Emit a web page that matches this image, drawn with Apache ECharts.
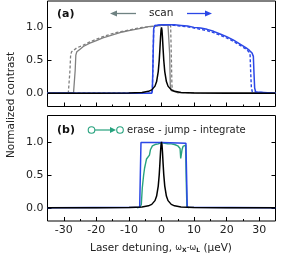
<!DOCTYPE html>
<html><head><meta charset="utf-8">
<script src="https://cdn.jsdelivr.net/npm/echarts@6/dist/echarts.min.js"></script>
<style>html,body{margin:0;padding:0;background:#fff}#c{width:284px;height:256px}</style>
</head><body><div id="c"></div>
<script>
const xTicks = [-30, -20, -10, 0, 10, 20, 30];
const xMinorTicks = [-25, -15, -5, 5, 15, 25];
const yTicks = [0, 0.5, 1];

// narrow resonance (black), both panels
const peakX = [-35,-20,-10,-6,-4,-3,-2,-1.5,-1,-0.7,-0.5,-0.3,-0.15,0,0.15,0.3,0.5,0.7,1,1.5,2,3,4,6,10,20,35];
const peakY = [0.0,0.001,0.005,0.013,0.03,0.052,0.109,0.179,0.329,0.5,0.662,0.845,0.956,1.0,0.956,0.845,0.662,0.5,0.329,0.179,0.109,0.052,0.03,0.013,0.005,0.001,0.0];

// panel (a) scan left (gray)
const graySolidX = [-35,-27.0,-26.7,-26.5,-26.3,-26.0,-25.0,-24.0,-22.0,-20.0,-18.0,-16.0,-14.0,-12.0,-10.0,-8.0,-6.0,-4.0,-2.0,0.0,2.0,2.3,2.5,2.7,3.0,3.5,5.0,35];
const graySolidY = [0.01,0.01,0.03,0.35,0.58,0.63,0.67,0.71,0.76,0.8,0.84,0.87,0.9,0.93,0.95,0.97,0.99,1.01,1.02,1.03,1.03,1.03,0.6,0.12,0.04,0.02,0.01,0.01];
const grayDashX = [-35,-28.6,-28.3,-28.1,-27.9,-27.6,-26.0,-24.0,-22.0,-20.0,-18.0,-16.0,-14.0,-12.0,-10.0,-8.0,-6.0,-4.0,-2.0,0.0,2.0,2.8,3.0,3.2,3.5,4.0,5.0,35];
const grayDashY = [0.01,0.01,0.03,0.35,0.58,0.63,0.69,0.73,0.78,0.82,0.86,0.89,0.92,0.94,0.96,0.98,1.0,1.01,1.02,1.03,1.03,1.03,0.6,0.12,0.04,0.02,0.01,0.01];

// panel (a) scan right (blue)
const blueSolidX = [-35,-3.0,-2.8,-2.6,-2.4,-2.0,0,2,4,6,8,10,12,14,16,18,20,22,24,26,27,27.8,28.2,28.4,28.6,28.9,29.5,35];
const blueSolidY = [0.0,0.0,0.05,0.5,0.98,1.03,1.04,1.04,1.04,1.03,1.02,1.0,0.99,0.97,0.94,0.9,0.86,0.81,0.75,0.69,0.65,0.61,0.56,0.3,0.08,0.02,0.0,0.0];
const blueDashX = [-35,-3.0,-2.8,-2.6,-2.4,-2.0,0,2,4,6,8,10,12,14,16,18,20,22,24,26,26.8,27.2,27.4,27.6,27.9,28.5,35];
const blueDashY = [0.0,0.0,0.05,0.5,0.98,1.03,1.04,1.04,1.03,1.02,1.01,0.99,0.97,0.95,0.92,0.88,0.84,0.79,0.73,0.67,0.63,0.58,0.3,0.08,0.02,0.0,0.0];

// panel (b)
const blueBX = [-35,-6.7,-6.5,-6.3,0,7.5,7.7,7.9,35];
const blueBY = [0.0,0.01,0.5,0.99,0.99,0.98,0.5,0.01,0.0];
const greenX = [-7.5,-6.6,-6.2,-5.9,-5.5,-5.2,-4.9,-4.6,-4.3,-4.0,-3.7,-3.4,-3.1,-2.8,-2.4,-2.0,-1.5,-1.0,-0.5,0.0,0.5,1.0,1.5,2.0,2.5,3.0,3.5,4.0,4.5,5.0,5.4,5.7,5.9,6.1,6.3,6.6,7.0,7.4,7.6,7.8,8.5];
const greenY = [0.0,0.01,0.05,0.3,0.49,0.6,0.67,0.74,0.77,0.72,0.8,0.88,0.9,0.94,0.95,0.96,0.96,0.97,0.98,0.99,0.98,0.98,0.97,0.97,0.96,0.97,0.96,0.96,0.95,0.94,0.92,0.9,0.75,0.72,0.88,0.93,0.96,0.95,0.4,0.02,0.0];

const BLUE = '#2b47e6', GRAY = '#808080', GREEN = '#27a27e', BLACK = '#000';
const pairs = (xs, ys) => xs.map((x, i) => [x, ys[i]]);

const grids = [
  {left: 47.5, top: 1, width: 228, height: 105.5},
  {left: 47.5, top: 115.5, width: 228, height: 105.5}
].map(g => Object.assign({show: true, borderColor: '#000', borderWidth: 1, backgroundColor: 'transparent', containLabel: false, outerBoundsMode: 'none'}, g));

const F = 'DejaVu Sans';
const xAxis = [], yAxis = [];
[0, 1].forEach(i => {
  xAxis.push({gridIndex: i, type: 'value', min: -35, max: 35, position: 'bottom',
    axisLine: {show: false, onZero: false}, splitLine: {show: false},
    axisTick: {show: true, inside: true, length: 4, customValues: xTicks, lineStyle: {color: '#000'}},
    axisLabel: {show: i === 1, customValues: xTicks, fontSize: 11, color: '#222', margin: 4, fontFamily: F}});
  xAxis.push({gridIndex: i, type: 'value', min: -35, max: 35, position: 'bottom',
    axisLine: {show: false, onZero: false}, splitLine: {show: false},
    axisTick: {show: true, inside: true, length: 2, customValues: xMinorTicks, lineStyle: {color: '#000'}},
    axisLabel: {show: false}});
  yAxis.push({gridIndex: i, type: 'value', min: -0.2, max: 1.4, position: 'left',
    axisLine: {show: false, onZero: false}, splitLine: {show: false},
    axisTick: {show: true, inside: true, length: 4, customValues: yTicks, lineStyle: {color: '#000'}},
    axisLabel: {customValues: yTicks, formatter: v => v.toFixed(1), fontSize: 11, color: '#222', margin: 4, fontFamily: F}});
  yAxis.push({gridIndex: i, type: 'value', min: -0.2, max: 1.4, position: 'right',
    axisLine: {show: false, onZero: false}, splitLine: {show: false},
    axisTick: {show: true, inside: true, length: 4, customValues: yTicks, lineStyle: {color: '#000'}},
    axisLabel: {show: false}});
});

function line(xs, ys, panel, color, width, dashed) {
  return {type: 'line', xAxisIndex: panel * 2, yAxisIndex: panel * 2, data: pairs(xs, ys),
    symbol: 'none', smooth: false, animation: false,
    lineStyle: {color: color, width: width, type: dashed ? [3, 2] : 'solid'}};
}

const series = [
  line(grayDashX, grayDashY, 0, GRAY, 1.3, true),
  line(graySolidX, graySolidY, 0, GRAY, 1.3, false),
  line(blueDashX, blueDashY, 0, BLUE, 1.4, true),
  line(blueSolidX, blueSolidY, 0, BLUE, 1.5, false),
  line(peakX, peakY, 0, BLACK, 1.5, false),
  line(greenX, greenY, 1, GREEN, 1.4, false),
  line(blueBX, blueBY, 1, BLUE, 1.5, false),
  line(peakX, peakY, 1, BLACK, 1.5, false)
];

const graphic = [
  {type: 'text', x: 57, y: 14, style: {text: '(a)', font: 'bold 11px ' + F, fill: '#111', verticalAlign: 'middle'}},
  {type: 'line', shape: {x1: 136, y1: 13.5, x2: 115, y2: 13.5}, style: {stroke: '#6f8282', lineWidth: 1.3}},
  {type: 'polygon', shape: {points: [[110, 13.5], [117, 10.5], [117, 16.5]]}, style: {fill: '#6f8282'}},
  {type: 'text', x: 149, y: 13.5, style: {text: 'scan', font: '10.5px ' + F, fill: '#222', verticalAlign: 'middle'}},
  {type: 'line', shape: {x1: 187, y1: 13.5, x2: 207, y2: 13.5}, style: {stroke: BLUE, lineWidth: 1.3}},
  {type: 'polygon', shape: {points: [[212, 13.5], [205, 10.5], [205, 16.5]]}, style: {fill: BLUE}},
  {type: 'text', x: 57, y: 130, style: {text: '(b)', font: 'bold 11px ' + F, fill: '#111', verticalAlign: 'middle'}},
  {type: 'line', shape: {x1: 95, y1: 130, x2: 111, y2: 130}, style: {stroke: GREEN, lineWidth: 1.2}},
  {type: 'polygon', shape: {points: [[116, 130], [110, 127], [110, 133]]}, style: {fill: GREEN}},
  {type: 'circle', shape: {cx: 91.5, cy: 130, r: 3.3}, style: {stroke: GREEN, fill: '#fff', lineWidth: 1.1}},
  {type: 'circle', shape: {cx: 120, cy: 130, r: 3.3}, style: {stroke: GREEN, fill: '#fff', lineWidth: 1.1}},
  {type: 'text', x: 127, y: 130, style: {text: 'erase - jump - integrate', font: '10px ' + F, fill: '#222', verticalAlign: 'middle'}},
  {type: 'text', x: 11, y: 105, rotation: Math.PI / 2, style: {text: 'Normalized contrast', font: '10.5px ' + F, fill: '#222', align: 'center', verticalAlign: 'middle'}},
  {type: 'text', x: 161, y: 248, style: {
    text: '{n|Laser detuning, }{w|ω}{s|X}{w|-ω}{s|L}{n| (μeV)}',
    align: 'center', verticalAlign: 'middle',
    rich: {
      n: {fontSize: 10.5, fontFamily: F, fill: '#222'},
      w: {fontSize: 8, fontFamily: F, fill: '#222'},
      s: {fontSize: 6, fontFamily: F, fill: '#222', padding: [5, 0, 0, 0], fontWeight: 'bold'}
    }}}
];

const chart = echarts.init(document.getElementById('c'), null, {renderer: 'canvas'});
chart.setOption({animation: false, grid: grids, xAxis: xAxis, yAxis: yAxis, series: series, graphic: graphic});
</script>
</body></html>
